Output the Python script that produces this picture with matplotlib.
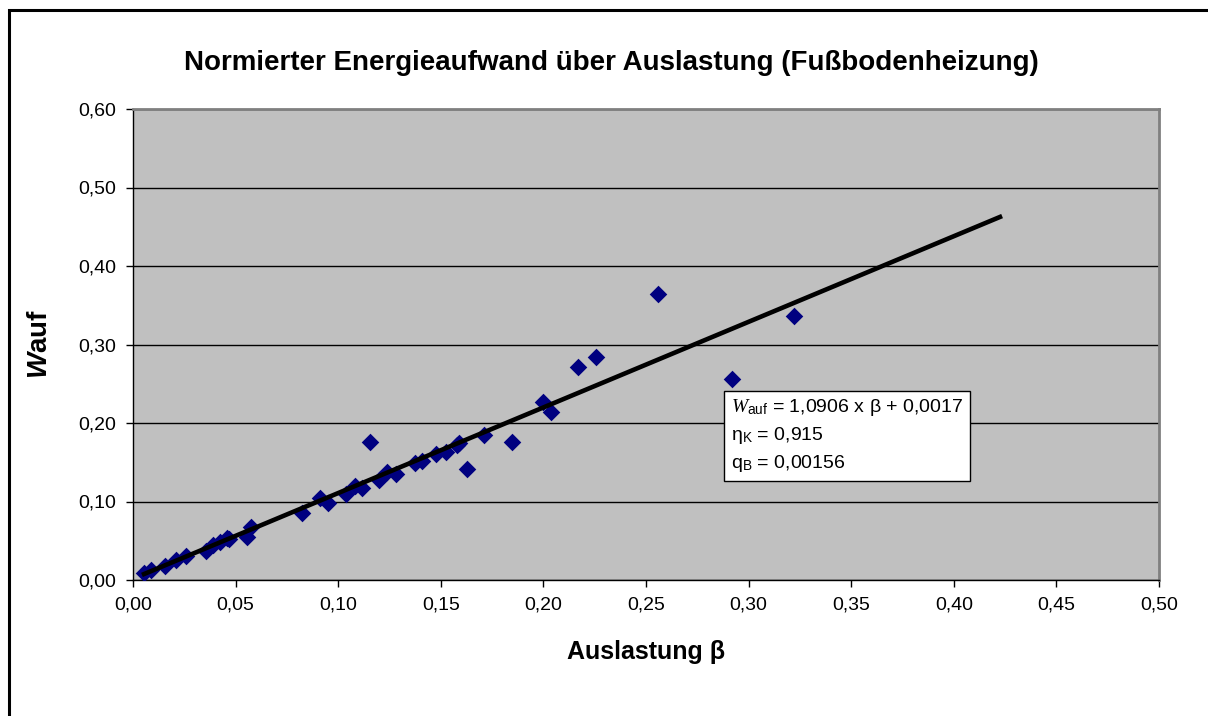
import numpy as np
import matplotlib.pyplot as plt
from matplotlib.patches import Rectangle

# Auslastung beta and normierter Energieaufwand W_auf
beta = np.array([0.0054, 0.0088, 0.0156, 0.0210, 0.0260, 0.0356, 0.0388, 0.0424,
                 0.0457, 0.0470, 0.0554, 0.0573, 0.0822, 0.0910, 0.0950, 0.1040,
                 0.1080, 0.1114, 0.1155, 0.1200, 0.1236, 0.1280, 0.1374, 0.1410,
                 0.1477, 0.1525, 0.1577, 0.1590, 0.1626, 0.1710, 0.1845, 0.1997,
                 0.2037, 0.2170, 0.2256, 0.2557, 0.2918, 0.3222])
w_auf = np.array([0.0085, 0.0130, 0.0180, 0.0260, 0.0310, 0.0370, 0.0446, 0.0490,
                  0.0530, 0.0520, 0.0550, 0.0670, 0.0850, 0.1040, 0.0980, 0.1100,
                  0.1200, 0.1170, 0.1760, 0.1270, 0.1370, 0.1350, 0.1490, 0.1520,
                  0.1600, 0.1630, 0.1720, 0.1740, 0.1420, 0.1850, 0.1760, 0.2270,
                  0.2140, 0.2710, 0.2840, 0.3640, 0.2557, 0.3360])

# trendline from the chart
slope = 1.0906
intercept = 0.0017
trend_end = 0.4225

xticks = np.arange(0, 0.501, 0.05)
yticks = np.arange(0, 0.601, 0.1)

plt.rcParams['font.family'] = ['Liberation Sans', 'DejaVu Sans']
plt.rcParams['mathtext.fontset'] = 'custom'
plt.rcParams['mathtext.rm'] = 'Liberation Sans'
plt.rcParams['mathtext.it'] = 'Liberation Serif:italic'
plt.rcParams['mathtext.bf'] = 'Liberation Sans:bold:italic'

fig = plt.figure(figsize=(12.08, 7.16), dpi=100)
ax = fig.add_axes([133 / 1208, 1 - 580 / 716, (1159 - 133) / 1208, (580 - 109) / 716])

# outer chart frame
fig.patches.append(Rectangle((9 / 1208, -0.05), 1.1, 1 - 10 / 716 + 0.05,
                             transform=fig.transFigure, fill=False,
                             edgecolor='black', linewidth=2.2))

ax.set_facecolor('#C0C0C0')
ax.set_xlim(0, 0.5)
ax.set_ylim(0, 0.6)
ax.set_xticks(xticks)
ax.set_yticks(yticks)
ax.set_xticklabels([f"{v:.2f}".replace('.', ',') for v in xticks], fontsize=14)
ax.set_yticklabels([f"{v:.2f}".replace('.', ',') for v in yticks], fontsize=14)
ax.tick_params(direction='out', length=5, width=1, pad=7)
ax.grid(axis='y', color='black', linewidth=1)
ax.set_axisbelow(True)

for side in ['top', 'right']:
    ax.spines[side].set_color('#808080')
    ax.spines[side].set_linewidth(2)
for side in ['left', 'bottom']:
    ax.spines[side].set_color('black')
    ax.spines[side].set_linewidth(1)

ax.scatter(beta, w_auf, marker='D', s=80, color='#000080', zorder=3, linewidths=0)

x_line = np.array([beta.min(), trend_end])
ax.plot(x_line, slope * x_line + intercept, color='black', linewidth=3.3, zorder=4)

fig.text(611 / 1208, 1 - 63 / 716,
         'Normierter Energieaufwand über Auslastung (Fußbodenheizung)',
         fontsize=20, fontweight='bold', ha='center', va='center')
ax.set_xlabel('Auslastung β', fontsize=18, fontweight='bold', labelpad=19)
ax.set_ylabel(r'$\mathbf{W}$auf', fontsize=20, fontweight='bold', labelpad=18)

box_text = (r'$\mathit{W}_{\mathrm{auf}}$ = 1,0906 x β + 0,0017' + '\n'
            r'η$_{\mathrm{K}}$ = 0,915' + '\n'
            r'q$_{\mathrm{B}}$ = 0,00156')
ax.text(0.2915, 0.2325, box_text, fontsize=14, va='top', ha='left',
        linespacing=1.45, zorder=5,
        bbox=dict(boxstyle='square,pad=0.35', facecolor='white',
                  edgecolor='black', linewidth=1))

fig.savefig('out.png', dpi=100)
